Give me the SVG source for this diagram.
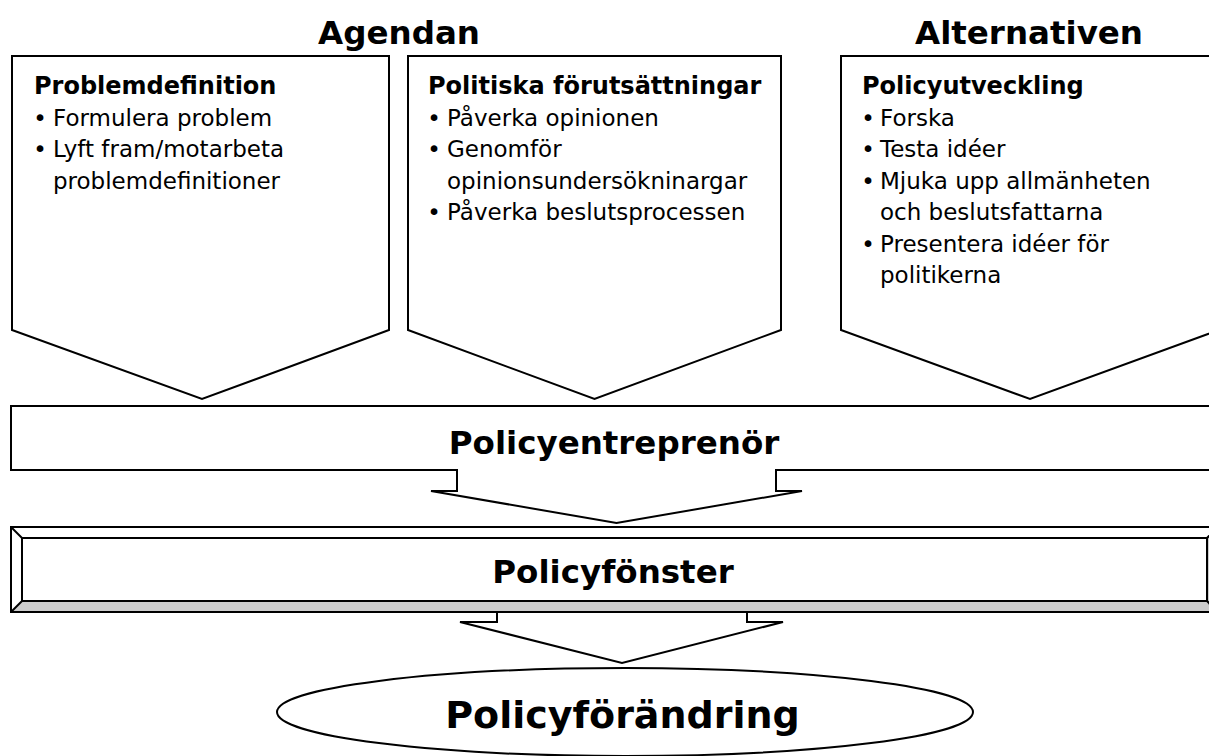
<svg xmlns="http://www.w3.org/2000/svg" width="1209" height="756" viewBox="0 0 1209 756">
<style>
.shape{fill:#ffffff;stroke:#000000;stroke-width:2;stroke-linejoin:miter}
.line{fill:none;stroke:#000000;stroke-width:2;stroke-linejoin:miter}
.t{font-family:"DejaVu Sans","Liberation Sans",sans-serif;fill:#000000}
.hd{font-size:32.5px;font-weight:bold;text-anchor:middle}
.bh{font-size:24px;font-weight:bold}
.bt{font-size:23px}
.bul{font-size:23px;text-anchor:middle}
.big{font-size:32.5px;font-weight:bold;text-anchor:middle}
</style>
<rect x="0" y="0" width="1209" height="756" fill="#ffffff"/>

<g id="headers">
<text class="t hd" x="399" y="44">Agendan</text>
<text class="t hd" x="1029" y="44">Alternativen</text>
</g>

<g id="problemdefinition">
<polygon class="shape" points="12,56 389,56 389,330 202,399 12,330"/>
<text class="t bh" x="34" y="94">Problemdefinition</text>
<text class="t bul" x="40" y="125.5">•</text>
<text class="t bt" x="53" y="125.5">Formulera problem</text>
<text class="t bul" x="40" y="157">•</text>
<text class="t bt" x="53" y="157">Lyft fram/motarbeta</text>
<text class="t bt" x="53" y="188.5">problemdefinitioner</text>
</g>

<g id="politiska">
<polygon class="shape" points="408,56 781,56 781,330 594.5,399 408,330"/>
<text class="t bh" x="428" y="94">Politiska förutsättningar</text>
<text class="t bul" x="434" y="125.5">•</text>
<text class="t bt" x="447" y="125.5">Påverka opinionen</text>
<text class="t bul" x="434" y="157">•</text>
<text class="t bt" x="447" y="157">Genomför</text>
<text class="t bt" x="447" y="188.5">opinionsundersökninargar</text>
<text class="t bul" x="434" y="220">•</text>
<text class="t bt" x="447" y="220">Påverka beslutsprocessen</text>
</g>

<g id="policyutveckling">
<polygon class="shape" points="841,56 1219,56 1219,330 1030,399 841,330"/>
<text class="t bh" x="862" y="94">Policyutveckling</text>
<text class="t bul" x="868" y="125.5">•</text>
<text class="t bt" x="880" y="125.5">Forska</text>
<text class="t bul" x="868" y="157">•</text>
<text class="t bt" x="880" y="157">Testa idéer</text>
<text class="t bul" x="868" y="188.5">•</text>
<text class="t bt" x="880" y="188.5">Mjuka upp allmänheten</text>
<text class="t bt" x="880" y="220">och beslutsfattarna</text>
<text class="t bul" x="868" y="251.5">•</text>
<text class="t bt" x="880" y="251.5">Presentera idéer för</text>
<text class="t bt" x="880" y="283">politikerna</text>
</g>

<g id="policyentreprenor">
<polygon class="shape" points="11,406 1222,406 1222,470 776,470 776,491 802,491 616.5,523 431,491 457,491 457,470 11,470"/>
<text class="t big" x="614" y="454">Policyentreprenör</text>
</g>

<g id="connectors">
<polyline class="line" points="497,612 497,622 460,622 622,663 783,622 747,622 747,612"/>
</g>

<g id="policyfonster">
<rect x="11" y="527" width="1207" height="85" fill="#ffffff"/>
<polygon points="11,612 22,601 1207,601 1218,612" fill="#cccccc"/>
<polygon points="1218,527 1207,538 1207,601 1218,612" fill="#cccccc"/>
<rect class="line" x="11" y="527" width="1207" height="85"/>
<rect class="line" x="22" y="538" width="1185" height="63"/>
<line class="line" x1="11" y1="527" x2="22" y2="538"/>
<line class="line" x1="11" y1="612" x2="22" y2="601"/>
<line class="line" x1="1218" y1="527" x2="1207" y2="538"/>
<line class="line" x1="1218" y1="612" x2="1207" y2="601"/>
<text class="t big" x="613" y="583">Policyfönster</text>
</g>

<g id="policyforandring">
<ellipse class="shape" cx="625" cy="712" rx="348" ry="44"/>
<text class="t big" x="622.5" y="728" style="font-size:38px">Policyförändring</text>
</g>
</svg>
